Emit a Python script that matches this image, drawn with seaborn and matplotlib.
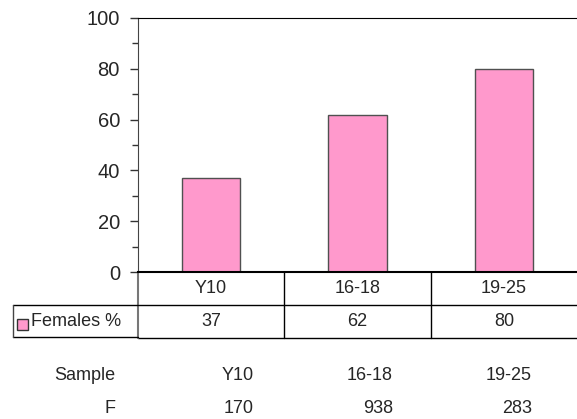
import seaborn as sns
import matplotlib.pyplot as plt
from matplotlib.lines import Line2D
from matplotlib.patches import Rectangle
from matplotlib.transforms import blended_transform_factory

# data
categories = ['Y10', '16-18', '19-25']
females_pct = [37, 62, 80]
series_label = 'Females %'
sample_header = 'Sample'
sample_groups = ['Y10', '16-18', '19-25']
sample_row_label = 'F'
sample_counts = [170, 938, 283]

W, H = 577, 419
pink = '#FF99CC'

sns.set_style('white')
plt.rcParams['font.family'] = ['Liberation Sans', 'DejaVu Sans']

fig = plt.figure(figsize=(W / 100, H / 100), dpi=100)
# plot area in pixels: left 138, right 577, top 18, bottom 272
ax = fig.add_axes([138 / W, (H - 272) / H, (577 - 138) / W, (272 - 18) / H])

sns.barplot(x=categories, y=females_pct, color=pink, saturation=1,
            width=0.4, edgecolor='#505050', linewidth=1, ax=ax)

ax.set_ylim(0, 100)
ax.set_xlim(-0.5, len(categories) - 0.5)
ax.set_yticks(range(0, 101, 20))
ax.set_yticks(range(10, 100, 20), minor=True)
ax.tick_params(axis='y', which='major', direction='out', length=6, width=1,
               color='#333333', labelsize=14.5, pad=7, left=True)
ax.tick_params(axis='y', which='minor', direction='out', length=4, width=1,
               color='#333333', left=True)
ax.set_xticks([])
ax.set_xlabel('')
ax.set_ylabel('')
for side in ['right']:
    ax.spines[side].set_visible(False)
ax.spines['left'].set_color('#444444')
ax.spines['top'].set_color('black')
ax.spines['bottom'].set_color('black')
ax.spines['bottom'].set_linewidth(1.5)

# data table under the plot area
px = 1 / 254  # one pixel in axes-fraction units (vertically)
row_h = 33 * px
trans = blended_transform_factory(ax.transData, ax.transAxes)
n = len(categories)

def hline(x0, x1, y, tr, color='black', lw=1):
    ax.add_line(Line2D([x0, x1], [y, y], transform=tr, color=color, lw=lw, clip_on=False))

def vline(x, y0, y1, tr, color='black', lw=1):
    ax.add_line(Line2D([x, x], [y0, y1], transform=tr, color=color, lw=lw, clip_on=False))

hline(-0.5, n - 0.5, -row_h, trans)
hline(-0.5, n - 0.5, -2 * row_h, trans)
for i in range(1, n):
    vline(i - 0.5, 0, -2 * row_h, trans)
vline(-0.5, 0, -2 * row_h, trans, color='#777777', lw=1.5)

for i, (cat, val) in enumerate(zip(categories, females_pct)):
    ax.text(i, -0.5 * row_h, cat, transform=trans, ha='center', va='center', fontsize=13)
    ax.text(i, -1.5 * row_h, str(val), transform=trans, ha='center', va='center', fontsize=13)

# legend cell on the left of the value row
ftr = fig.transFigure
def fx(x):
    return x / W
def fy(y):
    return 1 - y / H

fig.add_artist(Line2D([fx(13), fx(138)], [fy(305), fy(305)], transform=ftr, color='black', lw=1))
fig.add_artist(Line2D([fx(13), fx(138)], [fy(337), fy(337)], transform=ftr, color='black', lw=1))
fig.add_artist(Line2D([fx(13), fx(13)], [fy(305), fy(337)], transform=ftr, color='#444444', lw=1))
fig.add_artist(Rectangle((fx(17), fy(330)), 11 / W, 11 / H, transform=ftr,
                         facecolor=pink, edgecolor='#333333', lw=1))
fig.text(fx(31), fy(322), series_label, ha='left', va='center', fontsize=13)

# sample sizes typed below the chart
narrow = ['Liberation Sans Narrow', 'Liberation Sans', 'DejaVu Sans']
sample_x = [254, 393, 532]
fig.text(fx(115), fy(375), sample_header, ha='right', va='center', fontsize=13, family=narrow)
fig.text(fx(115), fy(408), sample_row_label, ha='right', va='center', fontsize=13, family=narrow)
for x, g, c in zip(sample_x, sample_groups, sample_counts):
    fig.text(fx(x), fy(375), g, ha='right', va='center', fontsize=13, family=narrow)
    fig.text(fx(x), fy(408), str(c), ha='right', va='center', fontsize=13, family=narrow)

fig.savefig('out.png', dpi=100)
